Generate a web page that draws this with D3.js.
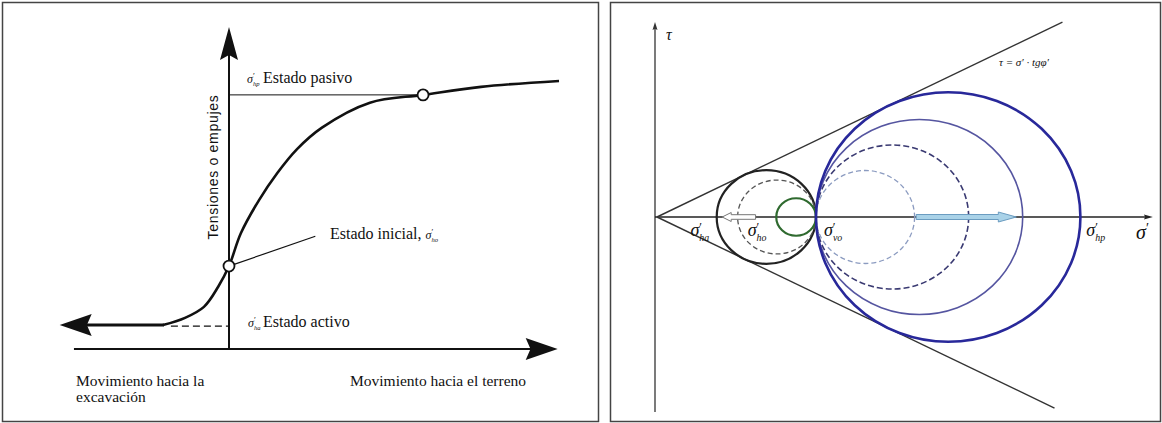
<!DOCTYPE html>
<meta charset="utf-8">
<title>Empujes del terreno y círculos de Mohr</title>
<style>
  body { margin: 0; background: #fff; }
  .serif { font-family: "Liberation Serif", "DejaVu Serif", serif; fill: #111; }
  .sans { font-family: "Liberation Sans", Arial, sans-serif; fill: #111; }
</style>
<svg id="chart" width="1162" height="423"></svg>
<script src="https://cdn.jsdelivr.net/npm/d3@7/dist/d3.min.js"></script>
<script>

// ---- left panel: wall movement vs. earth pressure ----
var curveDisp   = [-3.98, -2.65, -1.51, -0.66, 0, 0.72, 1.81, 2.9, 4.1, 5.6, 8.49, 11.69, 15.18, 19.88];
var curveStress = [0.89, 1.16, 1.57, 2.31, 3.09, 4.32, 5.55, 6.55, 7.45, 8.25, 9.18, 9.47, 9.77, 9.99];
var activeStress = 0.85, initialStress = 3.09, passiveStress = 9.47, passiveDisp = 11.69;
var dashStart = -3.5, leftArrowTip = -10.2;
var dispAxis = [-9.34, 19.8], stressAxisTop = 12;
var leaderEnd = [5.2, 4.2];

// ---- right panel: Mohr circles (sigma3, sigma1 in units of sigma'vo) ----
var circleNames = ["active", "activeMid", "small", "passiveLight", "passiveDash", "passiveMid", "passive"];
var circleMin   = [0.3755, 0.507, 0.75, 1, 1, 1, 1];
var circleMax   = [1, 1, 1, 1.62, 1.96, 2.30, 2.663];
var phiDeg = 27;
var envelopeEnd = [2.55, 2.50];          // sigma' at the end of upper / lower envelope
var arrowActive = [0.62, 0.41], arrowPassive = [1.63, 2.26];
var sigmaLabels = [["ha", 0.21], ["ho", 0.57], ["vo", 1.05], ["hp", 2.70]];

var svg = d3.select("#chart");

// panel frames
svg.append("rect").attr("x", 2.5).attr("y", 2.5).attr("width", 596).attr("height", 419)
  .attr("fill", "none").attr("stroke", "#444").attr("stroke-width", 1.5);
svg.append("rect").attr("x", 610.5).attr("y", 2.5).attr("width", 550).attr("height", 419)
  .attr("fill", "none").attr("stroke", "#444").attr("stroke-width", 1.5);

function head(g, x, y, dx, dy, len, half, fill) {
  var nx = -dy, ny = dx;
  var p = [[x, y],
           [x - dx*len + nx*half, y - dy*len + ny*half],
           [x - dx*len*0.85, y - dy*len*0.85],
           [x - dx*len - nx*half, y - dy*len - ny*half]];
  g.append("path").attr("d", "M" + p.join("L") + "Z").attr("fill", fill || "#111").attr("stroke", "none");
}

// sigma with prime and subscript, appended to an existing text or a new one
function sigmaSpans(t, sub, size) {
  t.append("tspan").text("σ").style("font-size", size + "px").style("font-style", "italic");
  t.append("tspan").text("′").style("font-size", (size*0.7) + "px").attr("dy", -size*0.3);
  if (sub) t.append("tspan").text(sub).style("font-size", (size*0.55) + "px").style("font-style", "italic")
    .attr("dx", -size*0.15).attr("dy", size*0.55);
}
function sigma(g, x, y, sub, size) {
  var t = g.append("text").attr("class", "serif").attr("x", x).attr("y", y);
  sigmaSpans(t, sub, size);
  return t;
}

// ================= LEFT =================
var xL = d3.scaleLinear().domain([-10, 20]).range([63, 561]);
var yL = d3.scaleLinear().domain([0, 12]).range([349, 27]);
var gL = svg.append("g");

// axes
gL.append("line").attr("x1", xL(dispAxis[0])).attr("x2", xL(dispAxis[1]) - 20)
  .attr("y1", yL(0)).attr("y2", yL(0)).attr("stroke", "#111").attr("stroke-width", 2);
head(gL, xL(dispAxis[1]), yL(0), 1, 0, 32, 11);
gL.append("line").attr("x1", xL(0)).attr("x2", xL(0))
  .attr("y1", yL(0)).attr("y2", yL(stressAxisTop) + 20).attr("stroke", "#111").attr("stroke-width", 2);
head(gL, xL(0), yL(stressAxisTop), 0, -1, 33, 9);

// helper lines
gL.append("line").attr("x1", xL(0)).attr("x2", xL(passiveDisp))
  .attr("y1", yL(passiveStress)).attr("y2", yL(passiveStress)).attr("stroke", "#111").attr("stroke-width", 1);
gL.append("line").attr("x1", xL(dashStart)).attr("x2", xL(0))
  .attr("y1", yL(activeStress)).attr("y2", yL(activeStress))
  .attr("stroke", "#111").attr("stroke-width", 1.2).attr("stroke-dasharray", "7,4");
gL.append("line").attr("x1", xL(0)).attr("y1", yL(initialStress))
  .attr("x2", xL(leaderEnd[0])).attr("y2", yL(leaderEnd[1])).attr("stroke", "#111").attr("stroke-width", 1.2);

// curve
var pts = curveDisp.map(function(d, i) { return [d, curveStress[i]]; });
var line = d3.line().x(function(d) { return xL(d[0]); }).y(function(d) { return yL(d[1]); })
  .curve(d3.curveCatmullRom.alpha(0.5));
gL.append("path").attr("d", line(pts)).attr("fill", "none").attr("stroke", "#111").attr("stroke-width", 2.6);

// left thick arrow
gL.append("line").attr("x1", xL(curveDisp[0]) + 1).attr("x2", xL(leftArrowTip) + 25)
  .attr("y1", yL(curveStress[0])).attr("y2", yL(curveStress[0])).attr("stroke", "#111").attr("stroke-width", 3);
head(gL, xL(leftArrowTip), yL(curveStress[0]), -1, 0, 32, 11);

// open circles
[[0, initialStress], [passiveDisp, passiveStress]].forEach(function(c) {
  gL.append("circle").attr("cx", xL(c[0])).attr("cy", yL(c[1])).attr("r", 5.5)
    .attr("fill", "#fff").attr("stroke", "#111").attr("stroke-width", 1.8);
});

// texts
gL.append("text").attr("class", "sans").attr("transform", "translate(218,167) rotate(-90)")
  .attr("text-anchor", "middle").style("font-size", "14px").style("letter-spacing", "0.7px")
  .text("Tensiones o empujes");
sigma(gL, 247, 83, "hp", 12);
gL.append("text").attr("class", "serif").attr("x", 263).attr("y", 83).style("font-size", "16px").text("Estado pasivo");
var ini = gL.append("text").attr("class", "serif").attr("x", 330).attr("y", 239).style("font-size", "16px");
ini.append("tspan").text("Estado inicial,\u00a0");
sigmaSpans(ini, "ho", 12);
sigma(gL, 248, 327, "ha", 12);
gL.append("text").attr("class", "serif").attr("x", 263).attr("y", 327).style("font-size", "16px").text("Estado activo");
gL.append("text").attr("class", "serif").attr("x", 76).attr("y", 386).style("font-size", "15.5px").text("Movimiento hacia la");
gL.append("text").attr("class", "serif").attr("x", 76).attr("y", 402).style("font-size", "15.5px").text("excavación");
gL.append("text").attr("class", "serif").attr("x", 350).attr("y", 386).style("font-size", "15.5px").text("Movimiento hacia el terreno");

// ================= RIGHT =================
var xR = d3.scaleLinear().domain([0, 3.1]).range([657, 657 + 3.1*159]);
var yR = d3.scaleLinear().domain([-1.3, 1.3]).range([412, 22]);
var gR = svg.append("g");
var tanPhi = Math.tan(phiDeg * Math.PI / 180);

// axes
gR.append("line").attr("x1", xR(0) - 2).attr("x2", xR(0) - 2).attr("y1", yR(-1.3)).attr("y2", yR(1.3) + 4)
  .attr("stroke", "#333").attr("stroke-width", 1.3);
head(gR, xR(0) - 2, yR(1.3), 0, -1, 8, 2.5, "#333");
gR.append("line").attr("x1", xR(0) - 2).attr("x2", xR(3.1) - 4).attr("y1", yR(0)).attr("y2", yR(0))
  .attr("stroke", "#222").attr("stroke-width", 1.5);
head(gR, xR(3.1) + 3, yR(0), 1, 0, 9, 2.5, "#222");

// envelopes
gR.append("line").attr("x1", xR(0)).attr("y1", yR(0))
  .attr("x2", xR(envelopeEnd[0])).attr("y2", yR(envelopeEnd[0]*tanPhi)).attr("stroke", "#333").attr("stroke-width", 1.4);
gR.append("line").attr("x1", xR(0)).attr("y1", yR(0))
  .attr("x2", xR(envelopeEnd[1])).attr("y2", yR(-envelopeEnd[1]*tanPhi)).attr("stroke", "#333").attr("stroke-width", 1.4);

// circles
var circleStyle = {
  active:       { stroke: "#222",    width: 2.2, dash: null },
  activeMid:    { stroke: "#555",    width: 1.3, dash: "5,3" },
  small:        { stroke: "#2f6a2f", width: 2.2, dash: null },
  passiveLight: { stroke: "#8b9bc0", width: 1.3, dash: "5,3" },
  passiveDash:  { stroke: "#3a3a72", width: 1.6, dash: "6,3" },
  passiveMid:   { stroke: "#5555a0", width: 1.6, dash: null },
  passive:      { stroke: "#28289a", width: 2.6, dash: null }
};
circleNames.forEach(function(n, i) {
  var a = circleMin[i], b = circleMax[i], s = circleStyle[n];
  gR.append("ellipse")
    .attr("cx", xR((a + b) / 2)).attr("cy", yR(0))
    .attr("rx", (xR(b) - xR(a)) / 2).attr("ry", yR(0) - yR((b - a) / 2))
    .attr("fill", "none").attr("stroke", s.stroke).attr("stroke-width", s.width)
    .attr("stroke-dasharray", s.dash);
});

// stress path arrows along sigma' axis
function blockArrow(x0, x1, y, sh, hh, hl, fill, stroke) {
  var d = x1 > x0 ? 1 : -1, xb = x1 - d*hl;
  var p = [[x0, y - sh], [xb, y - sh], [xb, y - hh], [x1, y], [xb, y + hh], [xb, y + sh], [x0, y + sh]];
  gR.append("path").attr("d", "M" + p.join("L") + "Z").attr("fill", fill).attr("stroke", stroke).attr("stroke-width", 1);
}
blockArrow(xR(arrowActive[0]), xR(arrowActive[1]), yR(0), 2.3, 4.5, 9, "#fff", "#777");
blockArrow(xR(arrowPassive[0]), xR(arrowPassive[1]), yR(0), 2.5, 5, 18, "#a9d2e8", "#6b9cc0");

// labels
sigmaLabels.forEach(function(l) {
  sigma(gR, xR(l[1]), yR(0) + 19, l[0], 18);
});
sigma(gR, 1136, 239, null, 20);
gR.append("text").attr("class", "serif").attr("x", 666).attr("y", 40).style("font-size", "16px")
  .style("font-style", "italic").text("τ");
gR.append("text").attr("class", "serif").attr("x", 999).attr("y", 66).style("font-size", "11px")
  .style("font-style", "italic").text("τ = σ′ · tgφ′");

</script>
